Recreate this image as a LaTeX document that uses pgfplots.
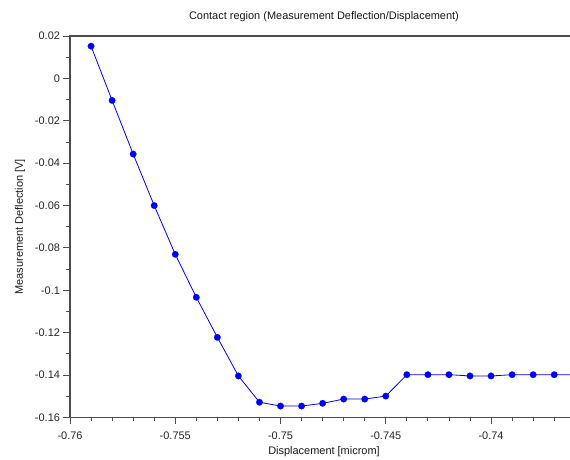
\documentclass[border=0pt]{standalone}
\usepackage{pgfplots}
\pgfplotsset{compat=1.18}
\usepackage{fontspec}
\setmainfont{Liberation Sans}
\begin{document}
\begin{tikzpicture}
\begin{axis}[
  scale only axis, width=508bp, height=381.5bp,
  xmin=-0.76, xmax=-0.73587, ymin=-0.16, ymax=0.02,
  xtick={-0.76,-0.755,-0.75,-0.745,-0.74},
  minor xtick={-0.759,-0.758,-0.757,-0.756,-0.754,-0.753,-0.752,-0.751,-0.749,-0.748,-0.747,-0.746,-0.744,-0.743,-0.742,-0.741,-0.739,-0.738,-0.737,-0.736},
  ytick={-0.16,-0.14,-0.12,-0.1,-0.08,-0.06,-0.04,-0.02,0,0.02},
  minor ytick={-0.15,-0.13,-0.11,-0.09,-0.07,-0.05,-0.03,-0.01,0.01},
  tick align=outside, xtick pos=bottom, ytick pos=left,
  major tick length=6.5bp, minor tick length=3.5bp,
  scaled ticks=false,
  /pgf/number format/.cd, fixed, precision=3, assume math mode=true, /pgfplots/.cd,
  axis line style={black!70, line width=1.3bp},
  every tick/.style={black!70, line width=0.9bp},
  tick label style={font=\fontsize{11}{13}\selectfont, text=black!85},
  xticklabel style={yshift=-4.5bp},
  every axis title shift=0pt,
  title={Contact region (Measurement Deflection/Displacement)},
  title style={at={(0.5,1.0498)}, anchor=center, yshift=0pt, font=\fontsize{11}{13}\selectfont, text=black!90},
  xlabel={Displacement [microm]},
  xlabel style={at={(0.5,-0.0904)}, anchor=center, yshift=0pt, font=\fontsize{11}{13}\selectfont, text=black!90},
  ylabel={Measurement Deflection [V]},
  ylabel style={at={(-0.0984,0.5)}, anchor=center, rotate=0, font=\fontsize{11}{13}\selectfont, text=black!90},
]
\addplot[blue, line width=0.8bp, mark=*, mark size=3.3bp, mark options={fill=blue, draw=blue, line width=0.1bp}] coordinates {
(-0.759,0.0152) (-0.758,-0.0104) (-0.757,-0.0357) (-0.756,-0.0600)
(-0.755,-0.0830) (-0.754,-0.1033) (-0.753,-0.1222) (-0.752,-0.1404)
(-0.751,-0.1528) (-0.750,-0.1546) (-0.749,-0.1546) (-0.748,-0.1533)
(-0.747,-0.1513) (-0.746,-0.1513) (-0.745,-0.1499) (-0.744,-0.1398)
(-0.743,-0.1398) (-0.742,-0.1398) (-0.741,-0.1404) (-0.740,-0.1404)
(-0.739,-0.1398) (-0.738,-0.1398) (-0.737,-0.1398) (-0.736,-0.1398)
};
\end{axis}
\pgfresetboundingbox
\useasboundingbox (-70bp,-42.5bp) rectangle (500bp,417.5bp);
\end{tikzpicture}
\end{document}
